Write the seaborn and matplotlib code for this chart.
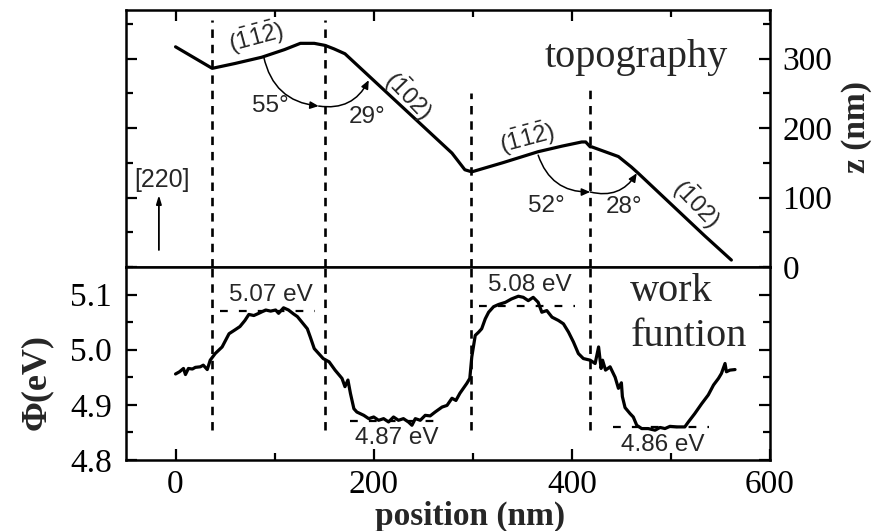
import matplotlib
matplotlib.use("Agg")
import matplotlib.pyplot as plt
import seaborn as sns
import pandas as pd
from matplotlib.patches import FancyArrowPatch
from matplotlib.ticker import MultipleLocator, FormatStrFormatter

# ---- topography profile z(position) ----
topo_x = [0, 37, 60, 87, 110, 126, 140, 151, 160, 171, 279, 292, 299,
          330, 366, 390, 410, 414, 418.5, 420, 447, 460, 467, 534, 561]
topo_z = [317, 286, 293, 302, 313, 322, 322, 319, 314, 307, 164, 140, 137,
          150, 166, 174, 180, 180, 173, 173, 159, 144, 135, 45, 10]

# ---- work function profile Phi(position) ----
wf_x = [0, 4, 8, 10, 13, 17, 20, 25, 28, 32, 35, 40, 47, 54, 60, 65, 70, 74,
        79, 84, 91, 96, 101, 104, 109, 114, 119, 123, 128, 133, 136, 140, 143,
        149, 155, 161, 168, 171, 174, 176.5, 180, 183, 190, 195, 200, 205, 210,
        215, 220, 225, 230, 235, 238.6, 242, 247, 252, 257, 262, 269, 274, 279,
        283, 287, 294, 297, 299, 302.5, 306, 309, 312.6, 316, 321, 326, 333,
        339, 346, 351, 356, 361, 366, 369.7, 374.7, 380, 386.5, 391.5, 396.6,
        401.6, 406.6, 411.6, 418.5, 423.5, 427, 429.5, 431, 434, 438.6, 443.7,
        447, 450, 451, 453.7, 458.8, 462, 465.5, 470.5, 477, 484, 489, 494,
        499, 506, 514, 517.6, 524, 531, 537.7, 543, 548, 551, 554.6, 556,
        559.6, 564.7]
wf_phi = [4.956, 4.960, 4.966, 4.955, 4.966, 4.965, 4.968, 4.969, 4.972, 4.964,
          4.981, 4.993, 5.005, 5.029, 5.036, 5.042, 5.053, 5.064, 5.062, 5.066,
          5.072, 5.070, 5.072, 5.066, 5.076, 5.072, 5.065, 5.060, 5.049, 5.038,
          5.023, 5.002, 4.996, 4.984, 4.978, 4.963, 4.948, 4.933, 4.945, 4.921,
          4.893, 4.887, 4.881, 4.875, 4.878, 4.872, 4.875, 4.869, 4.878, 4.872,
          4.875, 4.869, 4.863, 4.875, 4.872, 4.881, 4.880, 4.887, 4.896, 4.899,
          4.912, 4.908, 4.921, 4.939, 4.948, 4.987, 5.026, 5.032, 5.038, 5.056,
          5.068, 5.078, 5.082, 5.086, 5.092, 5.097, 5.095, 5.089, 5.095, 5.086,
          5.068, 5.071, 5.059, 5.053, 5.047, 5.032, 5.014, 4.993, 4.984, 4.981,
          4.975, 5.005, 4.966, 4.981, 4.963, 4.969, 4.950, 4.930, 4.940, 4.915,
          4.895, 4.884, 4.878, 4.863, 4.857, 4.857, 4.854, 4.859, 4.857, 4.861,
          4.860, 4.860, 4.869, 4.884, 4.902, 4.918, 4.936, 4.948, 4.957, 4.975,
          4.960, 4.963, 4.964]

# facet boundaries (vertical dashed lines) and their extents
bound_x = [37, 151, 298, 418.5]
bound_ztop = [355, 355, 250, 257]
bound_phi_low = 4.855

# plateau levels of the work function
level_val = [5.07, 4.87, 5.08, 4.86]
level_x0 = [45, 176, 306, 442]
level_x1 = [141, 267, 403, 538]
level_lbl = ["5.07 eV", "4.87 eV", "5.08 eV", "4.86 eV"]
level_lbl_x = [96, 223.5, 358, 491.4]
level_lbl_y = [5.100, 4.839, 5.118, 4.827]

# facet labels
facet_txt = [r"$\mathregular{(\bar{1}\bar{1}\bar{2})}$", r"$\mathregular{(\bar{1}02)}$",
             r"$\mathregular{(\bar{1}\bar{1}\bar{2})}$", r"$\mathregular{(\bar{1}02)}$"]
facet_x = [80.7, 235, 354.5, 526]
facet_z = [331.5, 247.5, 185, 91.6]
facet_rot = [15, -46, 15, -46]

# angle labels and arc anchor points (start, vertex, end)
angle_txt = ["55°", "29°", "52°", "28°"]
angle_x = [95.8, 193, 374.7, 452.7]
angle_z = [231.7, 215.4, 88.2, 86.8]
arc_pts = [[(89, 302.6), (144.5, 231.7), (195, 269)],
           [(366, 161), (418.5, 108), (465.5, 135)]]

sns.set_theme(style="ticks")
plt.rcParams["font.family"] = ["Liberation Serif", "DejaVu Serif"]
plt.rcParams["axes.linewidth"] = 1.8
plt.rcParams["axes.edgecolor"] = "black"

fig = plt.figure(figsize=(8.83, 5.31), dpi=100)
ax_t = fig.add_axes([0.14270, 0.49718, 0.72933, 0.48399])
ax_b = fig.add_axes([0.14270, 0.13371, 0.72933, 0.36347], sharex=ax_t)

topo = pd.DataFrame({"position": topo_x, "z": topo_z})
wf = pd.DataFrame({"position": wf_x, "phi": wf_phi})
sns.lineplot(data=topo, x="position", y="z", ax=ax_t, color="black", lw=2.3,
             estimator=None, sort=False)
sns.lineplot(data=wf, x="position", y="phi", ax=ax_b, color="black", lw=2.3,
             estimator=None, sort=False)

ax_t.set_xlim(-50, 600)
ax_t.set_ylim(0, 370)
ax_b.set_ylim(4.8, 5.15)

dash = (0, (3.2, 2.6))
for x, zt in zip(bound_x, bound_ztop):
    ax_t.plot([x, x], [0, zt], color="black", lw=1.9, ls=dash)
    ax_b.plot([x, x], [bound_phi_low, 5.15], color="black", lw=1.9, ls=dash)

for v, x0, x1 in zip(level_val, level_x0, level_x1):
    ax_b.plot([x0, x1], [v, v], color="black", lw=1.6, ls=(0, (3.5, 5)))

sans = ["Liberation Sans", "DejaVu Sans"]
for t, x, y in zip(level_lbl, level_lbl_x, level_lbl_y):
    ax_b.text(x, y, t, family=sans, fontsize=17.5, ha="center", va="center")

for t, x, z, r in zip(facet_txt, facet_x, facet_z, facet_rot):
    ax_t.text(x, z, t, family=sans, fontsize=17, ha="center", va="center",
              rotation=r, rotation_mode="anchor")

for t, x, z in zip(angle_txt, angle_x, angle_z):
    ax_t.text(x, z, t, family=sans, fontsize=17.5, ha="center", va="center")

for p0, pv, p1 in arc_pts:
    for a, b in ((p0, pv), (pv, p1)):
        ax_t.add_patch(FancyArrowPatch(a, b, connectionstyle="arc3,rad=0.36",
                                       arrowstyle="-|>,head_length=0.5,head_width=0.22",
                                       mutation_scale=10, lw=1.1, color="black",
                                       shrinkA=0, shrinkB=0))

# growth direction marker
ax_t.annotate("", xy=(-16.8, 103.6), xytext=(-16.8, 24.5),
              arrowprops=dict(arrowstyle="-|>,head_length=0.5,head_width=0.15",
                              mutation_scale=10, lw=1.3, color="black",
                              shrinkA=0, shrinkB=0))
ax_t.text(-13.6, 125, "[220]", family=sans, fontsize=18, ha="center", va="center")

ax_t.text(465, 288, "topography", fontsize=29, ha="center", va="baseline")
ax_b.text(459, 5.089, "work", fontsize=29, ha="left", va="baseline")
ax_b.text(459, 5.006, "funtion", fontsize=29, ha="left", va="baseline")

# ticks
for ax in (ax_t, ax_b):
    ax.xaxis.set_major_locator(MultipleLocator(200))
    ax.xaxis.set_minor_locator(MultipleLocator(100))
    ax.tick_params(which="both", direction="in", width=1.6, labelsize=24,
                   colors="black")
    ax.tick_params(which="major", length=8)
    ax.tick_params(which="minor", length=5)
    ax.set_xlabel("")
    ax.set_ylabel("")

ax_t.yaxis.set_major_locator(MultipleLocator(100))
ax_t.yaxis.set_minor_locator(MultipleLocator(50))
ax_t.tick_params(which="both", bottom=False, labelbottom=False, top=True,
                 left=True, right=True, labelleft=False, labelright=True, pad=9)

ax_b.yaxis.set_major_locator(MultipleLocator(0.1))
ax_b.yaxis.set_minor_locator(MultipleLocator(0.05))
ax_b.yaxis.set_major_formatter(FormatStrFormatter("%.1f"))
ax_b.tick_params(which="both", bottom=True, top=False, left=True, right=True,
                 labelleft=True, labelright=False)
ax_b.tick_params(axis="y", pad=10)
ax_b.tick_params(axis="x", pad=7)

ax_b.set_xlabel("position (nm)", fontsize=24, fontweight="bold")
ax_b.xaxis.set_label_coords(0.534, -0.29)
ax_b.xaxis.label.set_va("center")

ax_b.set_ylabel("Φ(eV)", fontsize=26, fontweight="bold")
ax_b.yaxis.set_label_coords(-0.1387, 0.404)
ax_b.yaxis.label.set_va("center")
ax_b.yaxis.label.set_ha("center")

ax_t.yaxis.set_label_position("right")
ax_t.set_ylabel("z (nm)", fontsize=24, fontweight="bold", rotation=90)
ax_t.yaxis.set_label_coords(1.1346, 0.545)
ax_t.yaxis.label.set_va("center")
ax_t.yaxis.label.set_ha("center")

fig.savefig("out.png", dpi=100, facecolor="white")
